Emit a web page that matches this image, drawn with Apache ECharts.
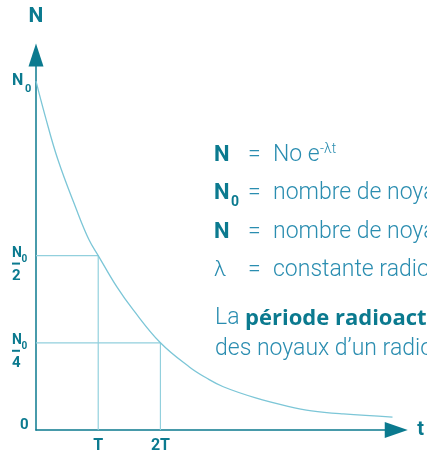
<!DOCTYPE html>
<html>
<head>
<meta charset="utf-8">
<script src="https://cdn.jsdelivr.net/npm/echarts@6/dist/echarts.min.js"></script>
<style>
  html, body { margin: 0; padding: 0; background: #fff; }
  #main { width: 427px; height: 455px; }
</style>
</head>
<body>
<div id="main"></div>
<script>
// decay curve, t in periods (T), N in fractions of N0
const tValues = [0, 0.14, 0.35, 0.65, 0.85, 1.0, 1.3, 1.56, 2.0, 2.47, 2.74, 3.01, 3.53, 4.05, 4.43, 4.94, 5.73];
const nValues = [1.0, 0.905, 0.776, 0.632, 0.546, 0.5, 0.41, 0.345, 0.25, 0.18, 0.149, 0.124, 0.092, 0.068, 0.055, 0.046, 0.037];

// guides from the y axis to the curve and down to the t axis
const guide1T = [0, 1, 1];
const guide1N = [0.5, 0.5, 0];
const guide2T = [0, 2, 2];
const guide2N = [0.25, 0.25, 0];

// tick labels
const xTickValues = [1, 2];
const xTickLabels = ['T', '2T'];
const yTickValues = [1, 0.5, 0.25];
const yTickDenoms = ['', '2', '4'];

// formula text block
const legendSymbols = ['N', 'N', 'N', 'λ'];
const legendTexts = ['No e', 'nombre de noyaux radioactifs', 'nombre de noyaux radioactifs', 'constante radioactive'];

const teal = '#0b7a8f';
const textBlue = '#2a8db0';
const curveColor = '#7cc6d7';
const guideColor = '#92d0dd';
const font = 'Roboto';

const zip = (a, b) => a.map((v, i) => [v, b[i]]);

const chart = echarts.init(document.getElementById('main'));

chart.setOption({
    animation: false,
    backgroundColor: '#fff',
    grid: { left: 36, right: 23.5, top: 55, bottom: 25 },
    xAxis: {
        type: 'value',
        min: 0,
        max: 5.79,
        interval: 1,
        name: 't',
        nameLocation: 'end',
        nameGap: 21,
        nameTextStyle: { color: teal, fontFamily: font, fontWeight: 'bold', fontSize: 20, align: 'left', verticalAlign: 'middle' },
        axisLine: { lineStyle: { color: teal, width: 1.5 }, symbol: ['none', 'triangle'], symbolSize: [16, 23] },
        axisTick: { show: false },
        splitLine: { show: false },
        axisLabel: {
            color: teal, fontFamily: font, fontWeight: 'bold', fontSize: 16, margin: 8,
            showMaxLabel: false,
            formatter: v => {
                const i = xTickValues.indexOf(v);
                return i >= 0 ? xTickLabels[i] : '';
            }
        }
    },
    yAxis: {
        type: 'value',
        min: 0,
        max: 1.075,
        name: 'N',
        nameLocation: 'end',
        nameGap: 38,
        nameTextStyle: { color: teal, fontFamily: font, fontWeight: 'bold', fontSize: 21, align: 'center', verticalAlign: 'middle' },
        axisLine: { lineStyle: { color: teal, width: 1.5 }, symbol: ['none', 'triangle'], symbolSize: [15, 23] },
        axisTick: { show: false },
        splitLine: { show: false },
        axisLabel: { show: false }
    },
    series: [
        {
            type: 'line',
            data: zip(guide1T, guide1N),
            showSymbol: false,
            lineStyle: { color: guideColor, width: 1.2 },
            z: 1
        },
        {
            type: 'line',
            data: zip(guide2T, guide2N),
            showSymbol: false,
            lineStyle: { color: guideColor, width: 1.2 },
            z: 1
        },
        {
            type: 'line',
            data: zip(tValues, nValues),
            smooth: 0.4,
            showSymbol: false,
            lineStyle: { color: curveColor, width: 1.3 },
            z: 2
        }
    ]
});

// y axis labels (N0, N0/2, N0/4, 0) placed from the axis scale
const txt = (x, y, text, size, bold, color, family) => ({
    type: 'text',
    style: {
        x, y, text,
        fill: color || teal,
        font: (bold ? 'bold ' : '300 ') + size + 'px ' + (family || font),
        verticalAlign: 'middle'
    }
});

const graphics = [];
yTickValues.forEach((v, i) => {
    const y = chart.convertToPixel({ yAxisIndex: 0 }, v);
    if (!yTickDenoms[i]) {
        graphics.push(txt(12, y, 'N', 16, true));
        graphics.push(txt(25, y + 8, '0', 11, true));
    } else {
        graphics.push(txt(12, y - 2, 'N', 14, true));
        graphics.push(txt(21.5, y + 3.5, '0', 10, true));
        graphics.push({ type: 'rect', shape: { x: 12, y: y + 7, width: 8, height: 2 }, style: { fill: teal } });
        graphics.push(txt(12, y + 20.5, yTickDenoms[i], 15, true));
    }
});
graphics.push(txt(20, chart.convertToPixel({ yAxisIndex: 0 }, 0) - 4.5, '0', 15, true));

// formula block on the right
const lineY = [155, 193, 232, 270];
legendSymbols.forEach((s, i) => {
    graphics.push(txt(214, lineY[i], s, 22, s !== 'λ', s === 'λ' ? textBlue : teal));
    graphics.push(txt(248, lineY[i], '=', 23, false, textBlue));
    graphics.push(txt(273, lineY[i], legendTexts[i], 23, false, textBlue));
});
graphics.push(txt(320, 149.5, '-λt', 14, false, textBlue));
graphics.push(txt(231, 202.5, '0', 14, true));

graphics.push({
    type: 'text',
    style: {
        x: 215, y: 318.5,
        text: '{r|La }{b|période radioactive}',
        verticalAlign: 'middle',
        rich: {
            r: { fontFamily: font, fontWeight: 300, fontSize: 23, fill: textBlue, color: textBlue },
            b: { fontFamily: 'Open Sans', fontWeight: 'bold', fontSize: 22, fill: teal, color: teal }
        }
    }
});
graphics.push(txt(215, 349, 'des noyaux d’un radionucléide', 23, false, textBlue));

chart.setOption({ graphic: graphics });
</script>
</body>
</html>
